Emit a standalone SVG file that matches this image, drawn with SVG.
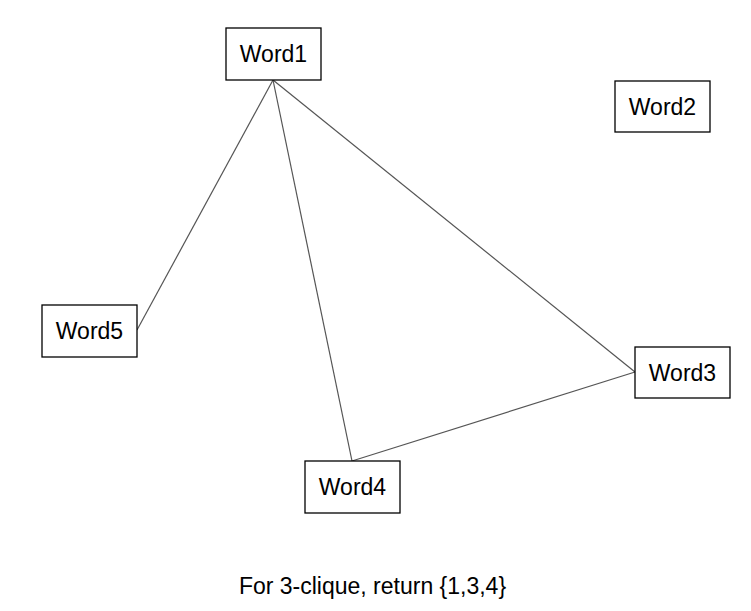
<svg xmlns="http://www.w3.org/2000/svg" width="751" height="611" viewBox="0 0 751 611">
<style>
.box{fill:#fff;stroke:#000;stroke-width:1.3}
.lbl{font-family:"Liberation Sans",Arial,sans-serif;font-size:23px;fill:#000;text-anchor:middle;dominant-baseline:central}
.edge{stroke:#555;stroke-width:1.2;fill:none}
</style>
<rect width="751" height="611" fill="#fff"/>
<g id="connectors">
<line class="edge" x1="273" y1="80" x2="137" y2="330"/>
<line class="edge" x1="273" y1="80" x2="352" y2="461"/>
<line class="edge" x1="273" y1="80" x2="635" y2="372"/>
<line class="edge" x1="352" y1="461" x2="635" y2="372"/>
</g>
<g id="word1"><rect class="box" x="226" y="28" width="95" height="52"/><text class="lbl" x="273.5" y="54">Word1</text></g>
<g id="word2"><rect class="box" x="615" y="81" width="95" height="51"/><text class="lbl" x="662.5" y="106.5">Word2</text></g>
<g id="word5"><rect class="box" x="42" y="305" width="95" height="52"/><text class="lbl" x="89.5" y="331">Word5</text></g>
<g id="word3"><rect class="box" x="635" y="347" width="95" height="51"/><text class="lbl" x="682.5" y="372.5">Word3</text></g>
<g id="word4"><rect class="box" x="305" y="461" width="95" height="52"/><text class="lbl" x="352.5" y="487">Word4</text></g>
<text id="caption" class="lbl" x="372.5" y="586">For 3-clique, return {1,3,4}</text>
</svg>
